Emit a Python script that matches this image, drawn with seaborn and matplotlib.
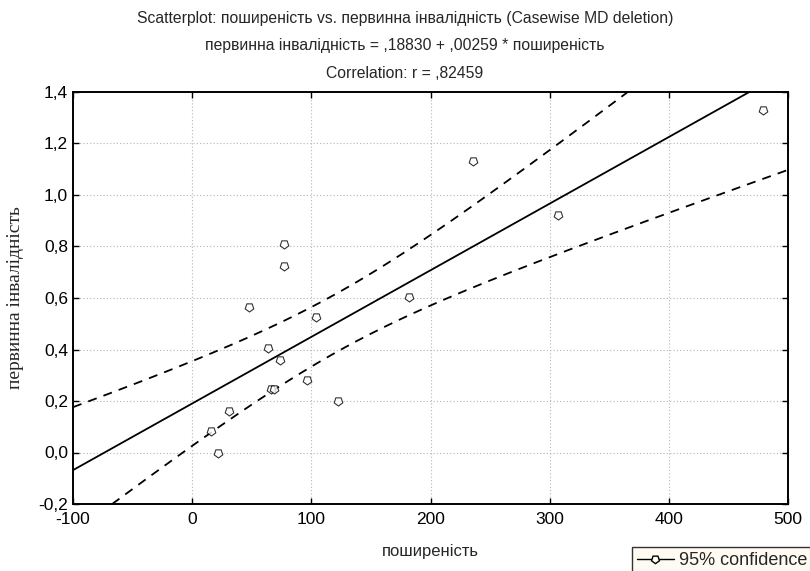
import numpy as np
import pandas as pd
import matplotlib
matplotlib.use("Agg")
import matplotlib.pyplot as plt
import seaborn as sns
from matplotlib.lines import Line2D
from matplotlib.ticker import FuncFormatter, MultipleLocator

# -------------------------
# Data
# -------------------------
poshyrenist = [48, 104, 64, 74, 96, 66, 69, 122, 31, 16, 22,
               77, 77, 236, 307, 479, 182]
invalidnist = [0.565, 0.525, 0.405, 0.36, 0.282, 0.245, 0.245, 0.20, 0.16, 0.083, 0.0,
               0.808, 0.723, 1.131, 0.924, 1.331, 0.603]

title_lines = [
    "Scatterplot: поширеність vs. первинна інвалідність (Casewise MD deletion)",
    "первинна інвалідність = ,18830 + ,00259 * поширеність",
    "Correlation: r = ,82459",
]
x_label = "поширеність"
y_label = "первинна інвалідність"
legend_label = "95% confidence"

data = pd.DataFrame({"x": poshyrenist, "y": invalidnist})

# -------------------------
# Style
# -------------------------
sns.set_style("ticks")
plt.rcParams["font.family"] = ["Liberation Sans", "DejaVu Sans"]
plt.rcParams["axes.unicode_minus"] = False

fig = plt.figure(figsize=(8.1, 5.71), dpi=100)
ax = fig.add_axes([73 / 810, 1 - 504 / 571, (788 - 73) / 810, (504 - 92) / 571])

ax.set_xlim(-100, 500)
ax.set_ylim(-0.2, 1.4)

# -------------------------
# Scatter + fitted line
# -------------------------
shield = (5, 0, 180)
sns.regplot(data=data, x="x", y="y", ax=ax, ci=None, truncate=False,
            marker=shield, color="black",
            scatter_kws={"s": 42, "facecolors": "white", "edgecolors": "black",
                         "linewidths": 0.8, "zorder": 3},
            line_kws={"lw": 1.3, "zorder": 2})

# 95% confidence bounds of the regression line
x = data["x"].to_numpy()
y = data["y"].to_numpy()
n = len(x)
b1, b0 = np.polyfit(x, y, 1)
resid = y - (b0 + b1 * x)
s = np.sqrt((resid ** 2).sum() / (n - 2))
sxx = ((x - x.mean()) ** 2).sum()
t_crit = 2.131  # t(0.975, df=15)
xs = np.linspace(-100, 500, 300)
fit = b0 + b1 * xs
half = t_crit * s * np.sqrt(1 / n + (xs - x.mean()) ** 2 / sxx)
ax.plot(xs, fit + half, color="black", lw=1.3, ls=(0, (5, 4)), zorder=2)
ax.plot(xs, fit - half, color="black", lw=1.3, ls=(0, (5, 4)), zorder=2)

# -------------------------
# Axes look
# -------------------------
ax.xaxis.set_major_locator(MultipleLocator(100))
ax.yaxis.set_major_locator(MultipleLocator(0.2))
ax.yaxis.set_major_formatter(FuncFormatter(lambda v, p: f"{v:.1f}".replace(".", ",")))
ax.xaxis.set_major_formatter(FuncFormatter(lambda v, p: f"{v:.0f}"))
ax.tick_params(direction="in", length=4, width=1, labelsize=12.5,
               top=True, right=True, colors="black")
ax.tick_params(axis="x", pad=6)
ax.grid(True, color="#b5b5b5", lw=0.8, ls=(0, (1, 2)))
for sp in ax.spines.values():
    sp.set_linewidth(1.4)
    sp.set_color("black")

ax.set_xlabel(x_label, fontsize=12, labelpad=12)
ax.set_ylabel(y_label, fontsize=14, family=["Liberation Serif", "DejaVu Serif"], labelpad=10)

for i, line in enumerate(title_lines):
    fig.text(0.5, 1 - (18 + 27.5 * i) / 571, line, ha="center", va="center", fontsize=11.3)

# legend box in the lower right corner
handle = Line2D([], [], color="black", lw=1, marker=shield, markersize=6,
                markerfacecolor="white", markeredgecolor="black")
leg = fig.legend([handle], [legend_label], loc="upper left",
                 bbox_to_anchor=(632 / 810, 1 - 547 / 571),
                 fontsize=13, frameon=True, fancybox=False, borderaxespad=0,
                 borderpad=0.3, handlelength=2.0, handletextpad=0.3)
leg.get_frame().set_edgecolor("black")
leg.get_frame().set_facecolor("#fffaf0")
leg.get_frame().set_linewidth(1)

fig.savefig("out.png", dpi=100)
